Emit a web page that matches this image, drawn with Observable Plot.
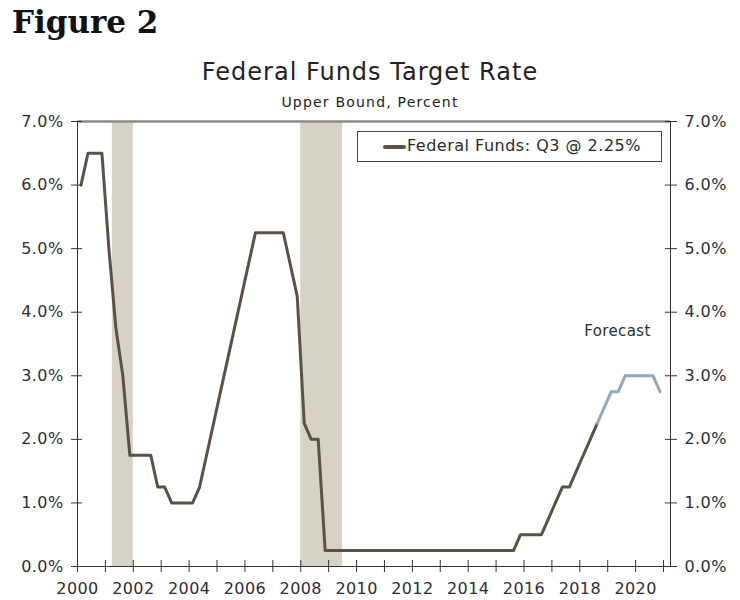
<!DOCTYPE html>
<html><head><meta charset="utf-8">
<script src="https://cdn.jsdelivr.net/npm/d3@7"></script>
<script src="https://cdn.jsdelivr.net/npm/@observablehq/plot@0.6"></script>
<style>
body{margin:0;background:#fff;}
#wrap{position:relative;width:740px;height:600px;font-family:"DejaVu Sans",Verdana,sans-serif;color:#2b2b2b;}
#fig{position:absolute;left:12px;top:4px;font-family:"DejaVu Serif",Georgia,serif;font-weight:bold;font-size:31px;color:#111;}
#title{position:absolute;left:0;width:740px;top:58px;text-align:center;font-size:24px;letter-spacing:1px;color:#222;}
#sub{position:absolute;left:0;width:740px;top:94px;text-align:center;font-size:14px;letter-spacing:1.2px;color:#222;}
#legend{position:absolute;left:357px;top:131px;width:305px;height:31px;box-sizing:border-box;border:1.5px solid #444;background:#fff;}
#legend .sw{position:absolute;left:25px;top:13px;width:23px;height:3.5px;background:#5b5148;border-radius:2px;}
#legend .tx{position:absolute;left:49px;top:4px;font-size:16px;letter-spacing:0.5px;color:#2b2b2b;white-space:nowrap;}
#chart{position:absolute;left:0;top:0;}
</style></head><body>
<div id="wrap">
<div id="chart"></div>
<div id="fig">Figure 2</div>
<div id="title">Federal Funds Target Rate</div>
<div id="sub">Upper Bound, Percent</div>
<div id="legend"><div class="sw"></div><div class="tx">Federal Funds: Q3 @ 2.25%</div></div>
</div>
<script>
const startYear = 2000;
// Quarterly upper bound, 2000Q1 .. 2018Q3
const histRates = [
  6.0, 6.5, 6.5, 6.5,
  5.0, 3.75, 3.0, 1.75,
  1.75, 1.75, 1.75, 1.25,
  1.25, 1.0, 1.0, 1.0,
  1.0, 1.25, 1.75, 2.25,
  2.75, 3.25, 3.75, 4.25,
  4.75, 5.25, 5.25, 5.25,
  5.25, 5.25, 4.75, 4.25,
  2.25, 2.0, 2.0, 0.25,
  0.25, 0.25, 0.25, 0.25,
  0.25, 0.25, 0.25, 0.25,
  0.25, 0.25, 0.25, 0.25,
  0.25, 0.25, 0.25, 0.25,
  0.25, 0.25, 0.25, 0.25,
  0.25, 0.25, 0.25, 0.25,
  0.25, 0.25, 0.25, 0.5,
  0.5, 0.5, 0.5, 0.75,
  1.0, 1.25, 1.25, 1.5,
  1.75, 2.0, 2.25
];
// Forecast, 2018Q3 .. 2020Q4
const forecastRates = [2.25, 2.5, 2.75, 2.75, 3.0, 3.0, 3.0, 3.0, 3.0, 2.75];
const recessions = [{start: 2001.25, end: 2002.0}, {start: 2008.0, end: 2009.5}];
const yTicks = [0, 1, 2, 3, 4, 5, 6, 7];
const xTicks = d3.range(2000, 2022);
const annotations = [{x: 2019.35, y: 3.7, text: "Forecast"}];

const qDate = i => startYear + i * 0.25 + 0.125;
const hist = histRates.map((r, i) => ({date: qDate(i), rate: r}));
const f0 = histRates.length - 1;
const fc = forecastRates.map((r, i) => ({date: qDate(f0 + i), rate: r}));

const W = 740, H = 600, ML = 77, MR = 70, MT = 121, MB = 34;
const PW = W - ML - MR, PH = H - MT - MB;
const axisColor = "#333";

const chart = Plot.plot({
  width: W, height: H,
  marginLeft: ML, marginRight: MR, marginTop: MT, marginBottom: MB,
  style: {fontFamily: "DejaVu Sans, Verdana, sans-serif", fontSize: "16px", letterSpacing: "0.4px", color: "#2e2e3a", background: "#fff"},
  x: {domain: [2000, 2021.25]},
  y: {domain: [0, 7]},
  marks: [
    Plot.rect(recessions, {x1: "start", x2: "end", fill: "#d6d2c6"}),
    Plot.line(hist, {x: "date", y: "rate", stroke: "#5b5148", strokeWidth: 3}),
    Plot.line(fc, {x: "date", y: "rate", stroke: "#93a9b8", strokeWidth: 3}),
    Plot.text(annotations, {x: "x", y: "y", text: "text", fill: "#2e2e3a", fontSize: 15, letterSpacing: "0.9px"}),
    Plot.frame({stroke: axisColor, strokeWidth: 1}),
    Plot.ruleY([7], {stroke: "#8a8a8a", strokeWidth: 2.5}),
    Plot.axisY(yTicks, {anchor: "left", tickSize: 6, tickPadding: 8, tickFormat: d => d.toFixed(1) + "%", stroke: axisColor, label: null}),
    Plot.axisY(yTicks, {anchor: "right", tickSize: 6, tickPadding: 8, tickFormat: d => d.toFixed(1) + "%", stroke: axisColor, label: null}),
    Plot.axisX(xTicks, {anchor: "bottom", tickSize: 6, tickPadding: 10, tickFormat: d => d % 2 === 0 ? String(d) : "", stroke: axisColor, label: null}),
    Plot.tickY(yTicks, {y: d => d, insetRight: PW - 5, stroke: axisColor}),
    Plot.tickY(yTicks, {y: d => d, insetLeft: PW - 5, stroke: axisColor}),
    Plot.tickX(xTicks, {x: d => d, insetTop: PH - 6, stroke: axisColor})
  ]
});
document.getElementById("chart").appendChild(chart);
</script>
</body></html>
